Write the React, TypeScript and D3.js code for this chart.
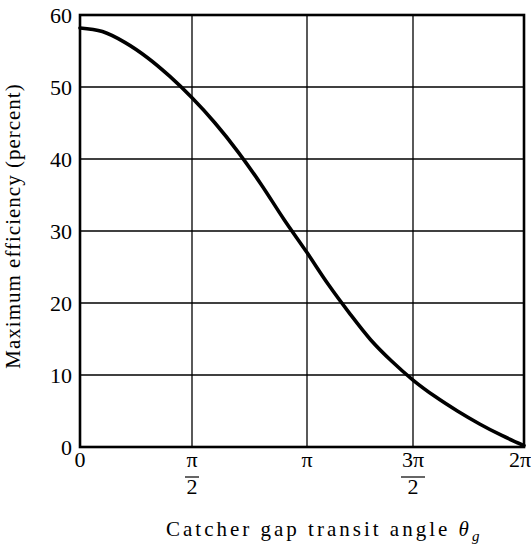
import React from "react";
import * as d3 from "d3";

// theta in units of pi
const thetaOverPi = [0, 0.1, 0.2, 0.3, 0.4, 0.5, 0.6, 0.7, 0.8, 0.9, 1.0, 1.1, 1.2, 1.3, 1.4, 1.5, 1.6, 1.7, 1.8, 1.9, 2.0];
const efficiency = [58.2, 57.7, 56.2, 54.1, 51.5, 48.5, 45.0, 41.0, 36.5, 31.6, 27.0, 22.6, 18.6, 14.9, 11.9, 9.3, 7.0, 5.0, 3.2, 1.6, 0.2];

const yTicks = [0, 10, 20, 30, 40, 50, 60];
const xTicks = [0, 0.5, 1, 1.5, 2];
const xTickNum = ["0", "π", "π", "3π", "2π"];
const xTickDen = ["", "2", "", "2", ""];

const yTitle = "Maximum efficiency (percent)";
const xTitle = "Catcher gap transit angle ";

export default function App() {
  const W = 531, H = 547;
  const x = d3.scaleLinear().domain([0, 0.5, 1, 1.5, 2]).range([80, 192, 307, 413, 524]);
  const y = d3.scaleLinear().domain([0, 60]).range([447, 15]);
  const pts: [number, number][] = thetaOverPi.map((t, i) => [t, efficiency[i]]);
  const line = d3.line<[number, number]>().x(d => x(d[0])).y(d => y(d[1])).curve(d3.curveMonotoneX);
  const font = "Liberation Serif, DejaVu Serif, serif";
  const [x0, x1] = [x(0), x(2)];
  const [y0, y1] = [y(0), y(60)];
  return (
    <svg width={W} height={H} style={{ position: "absolute", left: 0, top: 0, background: "#fff", fontFamily: font }}>
      {/* grid */}
      {yTicks.slice(1, -1).map(v => (
        <line key={"gy" + v} x1={x0} x2={x1} y1={y(v)} y2={y(v)} stroke="#000" strokeWidth={1.3} />
      ))}
      {xTicks.slice(1, -1).map(v => (
        <line key={"gx" + v} x1={x(v)} x2={x(v)} y1={y0} y2={y1} stroke="#000" strokeWidth={1.3} />
      ))}
      {/* frame */}
      <rect x={x0} y={y1} width={x1 - x0} height={y0 - y1} fill="none" stroke="#000" strokeWidth={2.6} />
      {/* curve */}
      <path d={line(pts) || ""} fill="none" stroke="#000" strokeWidth={3.6} strokeLinecap="round" />
      {/* y tick labels */}
      {yTicks.map(v => (
        <text key={"ty" + v} x={72} y={y(v)} dy="0.35em" textAnchor="end" fontSize={22} fill="#000">{v}</text>
      ))}
      {/* x tick labels */}
      {xTicks.map((v, i) => (
        <g key={"tx" + v}>
          <text x={x(v) + (i === 4 ? -4 : 0)} y={467} textAnchor="middle" fontSize={22} fill="#000">{xTickNum[i]}</text>
          {xTickDen[i] && (
            <>
              <line x1={x(v) - (i === 3 ? 12 : 7)} x2={x(v) + (i === 3 ? 12 : 7)} y1={477} y2={477} stroke="#000" strokeWidth={1.2} />
              <text x={x(v)} y={494} textAnchor="middle" fontSize={22} fill="#000">{xTickDen[i]}</text>
            </>
          )}
        </g>
      ))}
      {/* axis titles */}
      <text x={166} y={536} fontSize={21} letterSpacing={3.0} fill="#000">
        {xTitle}
        <tspan fontStyle="italic">θ</tspan>
        <tspan fontStyle="italic" fontSize={15} dy={5}>g</tspan>
      </text>
      <text transform={`translate(20,226) rotate(-90)`} textAnchor="middle" fontSize={21} letterSpacing={1.0} fill="#000">
        {yTitle}
      </text>
    </svg>
  );
}
